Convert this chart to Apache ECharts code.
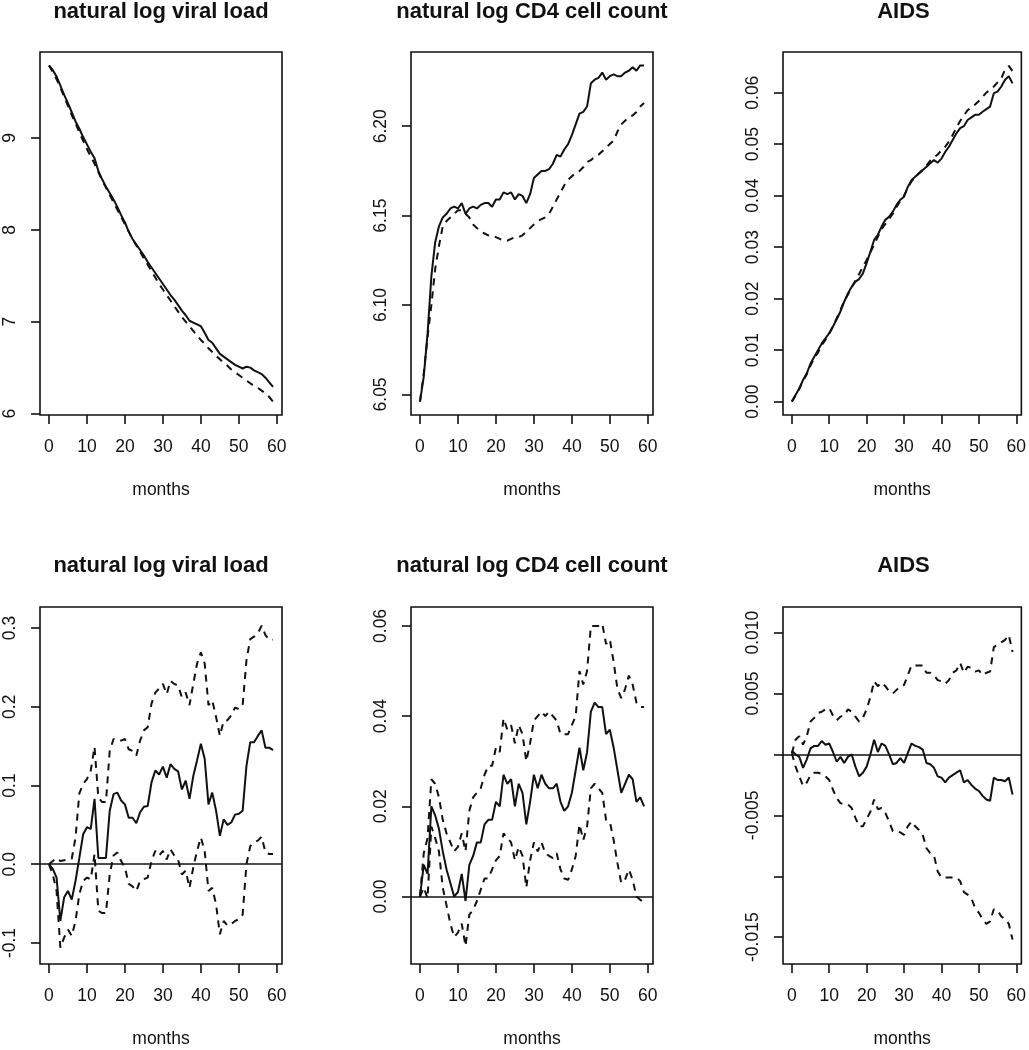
<!DOCTYPE html>
<html>
<head>
<meta charset="utf-8">
<script src="https://cdn.jsdelivr.net/npm/echarts@6/dist/echarts.min.js"></script>
<style>
html,body{margin:0;padding:0;background:#fff;}
#chart{width:1029px;height:1050px;}
</style>
</head>
<body>
<div id="chart"></div>
<script>
// ---------- DATA ----------
const months = [0,1,2,3,4,5,6,7,8,9,10,11,12,13,14,15,16,17,18,19,20,21,22,23,24,25,26,27,28,29,30,31,32,33,34,35,36,37,38,39,40,41,42,43,44,45,46,47,48,49,50,51,52,53,54,55,56,57,58,59];

const titles = ["natural log viral load", "natural log CD4 cell count", "AIDS"];
const xTicks = [0,10,20,30,40,50,60];
const xName = "months";

// top row: solid (observed) and dashed (predicted)
const vlSolid = [9.79,9.74,9.67,9.57,9.47,9.38,9.28,9.18,9.10,9.01,8.93,8.85,8.78,8.64,8.55,8.47,8.40,8.33,8.25,8.16,8.08,7.98,7.90,7.84,7.78,7.72,7.65,7.59,7.53,7.47,7.41,7.35,7.29,7.24,7.18,7.12,7.07,7.01,6.99,6.97,6.95,6.88,6.80,6.77,6.71,6.65,6.62,6.59,6.56,6.53,6.51,6.49,6.51,6.50,6.47,6.45,6.43,6.39,6.34,6.29];
const vlDashed = [9.79,9.72,9.64,9.55,9.45,9.35,9.25,9.16,9.06,8.97,8.88,8.80,8.72,8.63,8.54,8.46,8.38,8.30,8.22,8.14,8.06,7.98,7.90,7.83,7.76,7.69,7.62,7.55,7.48,7.41,7.35,7.29,7.23,7.17,7.11,7.05,7.00,6.95,6.90,6.85,6.80,6.76,6.71,6.67,6.63,6.59,6.55,6.52,6.48,6.45,6.42,6.39,6.36,6.33,6.30,6.28,6.25,6.22,6.18,6.13];

const cd4Solid = [6.046,6.060,6.084,6.116,6.135,6.144,6.149,6.151,6.154,6.155,6.154,6.157,6.151,6.154,6.155,6.154,6.156,6.157,6.157,6.155,6.159,6.159,6.163,6.162,6.163,6.159,6.162,6.161,6.157,6.162,6.171,6.173,6.175,6.175,6.176,6.179,6.184,6.183,6.187,6.190,6.195,6.201,6.207,6.208,6.211,6.224,6.226,6.227,6.230,6.226,6.228,6.229,6.228,6.228,6.230,6.231,6.233,6.231,6.234,6.234];
const cd4Dashed = [6.046,6.062,6.082,6.100,6.120,6.133,6.144,6.147,6.149,6.151,6.153,6.153,6.151,6.149,6.145,6.143,6.141,6.140,6.139,6.138,6.138,6.137,6.136,6.136,6.137,6.138,6.138,6.139,6.141,6.143,6.145,6.147,6.148,6.149,6.151,6.155,6.159,6.163,6.167,6.170,6.172,6.174,6.175,6.177,6.180,6.181,6.183,6.184,6.186,6.188,6.190,6.192,6.197,6.201,6.203,6.205,6.206,6.208,6.211,6.213];

const aidsSolid = [0.0000,0.0013,0.0026,0.0042,0.0055,0.0074,0.0087,0.0100,0.0113,0.0123,0.0133,0.0146,0.0160,0.0175,0.0194,0.0210,0.0223,0.0233,0.0238,0.0249,0.0269,0.0291,0.0314,0.0324,0.0340,0.0353,0.0359,0.0369,0.0382,0.0392,0.0398,0.0417,0.0430,0.0437,0.0443,0.0450,0.0456,0.0463,0.0469,0.0464,0.0472,0.0485,0.0495,0.0508,0.0521,0.0531,0.0535,0.0547,0.0552,0.0557,0.0557,0.0563,0.0568,0.0573,0.0599,0.0602,0.0612,0.0625,0.0632,0.0618];
const aidsDashed = [0.0000,0.0012,0.0025,0.0040,0.0053,0.0070,0.0085,0.0095,0.0110,0.0120,0.0132,0.0146,0.0162,0.0178,0.0195,0.0208,0.0222,0.0235,0.0248,0.0262,0.0275,0.0290,0.0305,0.0320,0.0335,0.0345,0.0355,0.0365,0.0378,0.0390,0.0400,0.0415,0.0428,0.0436,0.0444,0.0450,0.0458,0.0468,0.0474,0.0480,0.0488,0.0495,0.0505,0.0518,0.0532,0.0545,0.0556,0.0566,0.0571,0.0577,0.0584,0.0592,0.0600,0.0606,0.0612,0.0620,0.0628,0.0645,0.0652,0.0642];

// bottom row: difference (solid) with upper and lower dashed bands
const vlDiff = [0.000,-0.006,-0.017,-0.072,-0.042,-0.034,-0.045,-0.021,0.008,0.038,0.047,0.045,0.083,0.008,0.008,0.008,0.068,0.089,0.091,0.081,0.076,0.059,0.059,0.052,0.066,0.073,0.074,0.104,0.119,0.114,0.124,0.110,0.127,0.121,0.118,0.095,0.106,0.083,0.112,0.132,0.153,0.134,0.076,0.091,0.068,0.036,0.057,0.050,0.053,0.063,0.064,0.068,0.125,0.155,0.155,0.163,0.170,0.148,0.148,0.145];
const vlUpper = [0.000,0.004,0.008,0.004,0.005,0.006,0.007,0.034,0.090,0.102,0.108,0.119,0.149,0.085,0.079,0.079,0.144,0.159,0.159,0.157,0.159,0.146,0.144,0.138,0.157,0.170,0.174,0.204,0.218,0.223,0.229,0.216,0.233,0.229,0.227,0.212,0.218,0.202,0.229,0.255,0.269,0.255,0.202,0.208,0.187,0.163,0.182,0.183,0.189,0.199,0.197,0.202,0.259,0.286,0.289,0.293,0.303,0.291,0.285,0.285];
const vlLower = [0.000,-0.013,-0.034,-0.106,-0.093,-0.083,-0.091,-0.072,-0.038,-0.021,-0.017,-0.019,0.013,-0.059,-0.062,-0.062,-0.013,0.011,0.015,0.004,-0.004,-0.025,-0.028,-0.034,-0.021,-0.019,-0.017,0.004,0.017,0.011,0.017,0.006,0.019,0.011,0.006,-0.013,-0.008,-0.030,-0.004,0.017,0.034,0.017,-0.034,-0.030,-0.051,-0.089,-0.072,-0.078,-0.076,-0.072,-0.070,-0.064,0.000,0.023,0.028,0.030,0.035,0.015,0.013,0.013];

const cd4Diff = [0.000,0.007,0.005,0.020,0.018,0.015,0.010,0.006,0.003,0.000,0.001,0.005,-0.001,0.007,0.009,0.012,0.012,0.016,0.017,0.017,0.021,0.020,0.027,0.025,0.026,0.020,0.025,0.023,0.016,0.021,0.027,0.024,0.027,0.025,0.024,0.024,0.025,0.021,0.019,0.020,0.023,0.028,0.033,0.028,0.032,0.041,0.043,0.042,0.042,0.036,0.037,0.033,0.028,0.023,0.025,0.027,0.026,0.021,0.022,0.020];
const cd4Upper = [0.000,0.0096,0.013,0.026,0.025,0.022,0.017,0.014,0.012,0.010,0.011,0.014,0.010,0.019,0.022,0.023,0.024,0.027,0.029,0.029,0.033,0.032,0.0395,0.037,0.038,0.034,0.038,0.036,0.030,0.034,0.039,0.040,0.041,0.040,0.041,0.040,0.039,0.036,0.036,0.036,0.038,0.040,0.050,0.047,0.050,0.060,0.060,0.060,0.0605,0.056,0.057,0.052,0.046,0.044,0.046,0.049,0.047,0.043,0.042,0.042];
const cd4Lower = [0.000,0.002,-0.0004,0.0155,0.013,0.010,0.002,-0.002,-0.006,-0.009,-0.008,-0.006,-0.011,-0.004,-0.003,-0.001,0.0015,0.004,0.004,0.006,0.008,0.009,0.014,0.013,0.012,0.008,0.011,0.009,0.002,0.008,0.012,0.010,0.012,0.0096,0.009,0.0085,0.0096,0.006,0.004,0.0037,0.006,0.009,0.016,0.0125,0.0155,0.024,0.025,0.024,0.023,0.017,0.0166,0.0125,0.0074,0.003,0.0037,0.006,0.0037,0.000,-0.0007,-0.0015];

const aidsDiff = [0.0003,0.0000,-0.0002,-0.0011,-0.0004,0.0005,0.0007,0.0007,0.0011,0.0008,0.0009,0.0002,-0.0006,-0.0002,-0.0007,-0.0002,0.0000,-0.0010,-0.0018,-0.0015,-0.0010,0.0000,0.0012,0.0002,0.0009,0.0007,0.0000,-0.0008,-0.0007,-0.0003,-0.0007,0.0001,0.0009,0.0007,0.0006,0.0004,-0.0007,-0.0008,-0.0011,-0.0018,-0.0019,-0.0023,-0.0019,-0.0017,-0.0015,-0.0013,-0.0023,-0.0021,-0.0025,-0.0028,-0.0030,-0.0034,-0.0037,-0.0038,-0.0019,-0.0021,-0.0021,-0.0022,-0.0019,-0.0033];
const aidsUpper = [0.0001,0.0012,0.0015,0.0008,0.0015,0.0027,0.0030,0.0034,0.0035,0.0037,0.0038,0.0032,0.0028,0.0031,0.0032,0.0037,0.0035,0.0031,0.0027,0.0030,0.0037,0.0047,0.0060,0.0056,0.0059,0.0056,0.0052,0.0050,0.0053,0.0056,0.0057,0.0065,0.0073,0.0073,0.0073,0.0073,0.0067,0.0067,0.0065,0.0061,0.0060,0.0058,0.0061,0.0067,0.0069,0.0075,0.0067,0.0072,0.0071,0.0068,0.0069,0.0065,0.0067,0.0068,0.0088,0.0090,0.0092,0.0094,0.0098,0.0084];
const aidsLower = [0.0001,-0.0010,-0.0018,-0.0026,-0.0023,-0.0017,-0.0015,-0.0015,-0.0016,-0.0018,-0.0021,-0.0029,-0.0036,-0.0040,-0.0041,-0.0041,-0.0044,-0.0052,-0.0059,-0.0059,-0.0053,-0.0047,-0.0037,-0.0045,-0.0044,-0.0048,-0.0055,-0.0063,-0.0063,-0.0064,-0.0066,-0.0059,-0.0055,-0.0059,-0.0062,-0.0066,-0.0077,-0.0081,-0.0083,-0.0096,-0.0101,-0.0101,-0.0101,-0.0101,-0.0101,-0.0104,-0.0113,-0.0115,-0.0118,-0.0126,-0.0130,-0.0135,-0.0139,-0.0137,-0.0127,-0.0128,-0.0133,-0.0135,-0.0139,-0.0152];

// axis ticks / labels per panel
const yTicks1 = [6,7,8,9];
const yTicks2 = [6.05,6.10,6.15,6.20];
const yTicks3 = [0,0.01,0.02,0.03,0.04,0.05,0.06];
const yTicks4 = [-0.1,0,0.1,0.2,0.3];
const yTicks5 = [0,0.02,0.04,0.06];
const yTicks6 = [-0.015,-0.010,-0.005,0,0.005,0.010];
const yLabels6 = [-0.015,-0.005,0.005,0.010];

// ---------- LAYOUT ----------
const colLeft = [40, 411, 783];
const colWidth = [242, 242, 241];
const rowTop = [52, 607];
const rowHeight = [363, 357];
const titleTop = [1, 555];
const xRange = [-2.36, 61.36];
const yRanges = [[5.984, 9.936],[6.0385, 6.2415],[-0.0026, 0.0679],[-0.1267, 0.3267],[-0.01497, 0.0642],[-0.0172, 0.0121]];

const FONT = "'Liberation Sans', Arial, sans-serif";
const INK = '#111';

const panels = [
  {row:0,col:0,ticks:yTicks1,labels:yTicks1,dec:0,series:[[vlSolid,'solid'],[vlDashed,'dashed']],zero:false},
  {row:0,col:1,ticks:yTicks2,labels:yTicks2,dec:2,series:[[cd4Solid,'solid'],[cd4Dashed,'dashed']],zero:false},
  {row:0,col:2,ticks:yTicks3,labels:yTicks3,dec:2,series:[[aidsSolid,'solid'],[aidsDashed,'dashed']],zero:false},
  {row:1,col:0,ticks:yTicks4,labels:yTicks4,dec:1,series:[[vlDiff,'solid'],[vlUpper,'dashed'],[vlLower,'dashed']],zero:true},
  {row:1,col:1,ticks:yTicks5,labels:yTicks5,dec:2,series:[[cd4Diff,'solid'],[cd4Upper,'dashed'],[cd4Lower,'dashed']],zero:true},
  {row:1,col:2,ticks:yTicks6,labels:yLabels6,dec:3,series:[[aidsDiff,'solid'],[aidsUpper,'dashed'],[aidsLower,'dashed']],zero:true}
];

const grid = [], xAxis = [], yAxis = [], series = [], title = [];
panels.forEach((p, i) => {
  const left = colLeft[p.col], top = rowTop[p.row], w = colWidth[p.col], h = rowHeight[p.row];
  grid.push({left:left, top:top, width:w, height:h, show:true, borderColor:INK, borderWidth:1.6, backgroundColor:'transparent', containLabel:false});
  title.push({text:titles[p.col], left:left + w/2, top:titleTop[p.row], textAlign:'center', padding:0,
    textStyle:{fontFamily:FONT, fontWeight:'bold', fontSize:22, color:INK}});
  xAxis.push({gridIndex:i, type:'value', min:xRange[0], max:xRange[1],
    name:xName, nameLocation:'middle', nameGap:66,
    nameTextStyle:{fontFamily:FONT, fontSize:17.5, color:INK},
    axisLine:{show:false, onZero:false}, splitLine:{show:false},
    axisTick:{show:true, inside:false, length:9, customValues:xTicks, lineStyle:{color:INK, width:1.6}},
    axisLabel:{show:true, margin:23, customValues:xTicks, fontFamily:FONT, fontSize:17.5, color:INK,
      formatter:v => String(Math.round(v))}});
  yAxis.push({gridIndex:i, type:'value', min:yRanges[i][0], max:yRanges[i][1],
    axisLine:{show:false, onZero:false}, splitLine:{show:false},
    axisTick:{show:true, inside:false, length:9, customValues:p.ticks, lineStyle:{color:INK, width:1.6}},
    axisLabel:{show:true, rotate:90, margin:21, customValues:p.labels, fontFamily:FONT, fontSize:17.5, color:INK,
      formatter:v => v.toFixed(p.dec)}});
  p.series.forEach((s, k) => {
    const obj = {type:'line', xAxisIndex:i, yAxisIndex:i, showSymbol:false, symbol:'none',
      data: months.map((m, j) => [m, s[0][j]]),
      lineStyle:{color:INK, width:2, type: s[1] === 'dashed' ? [7,6] : 'solid'},
      silent:true, animation:false, clip:true};
    if (k === 0 && p.zero) {
      obj.markLine = {silent:true, symbol:'none', label:{show:false},
        lineStyle:{color:INK, width:1.6, type:'solid'}, data:[{yAxis:0}]};
    }
    series.push(obj);
  });
});

const chart = echarts.init(document.getElementById('chart'), null, {renderer:'canvas'});
chart.setOption({backgroundColor:'#fff', animation:false, title, grid, xAxis, yAxis, series});
</script>
</body>
</html>
